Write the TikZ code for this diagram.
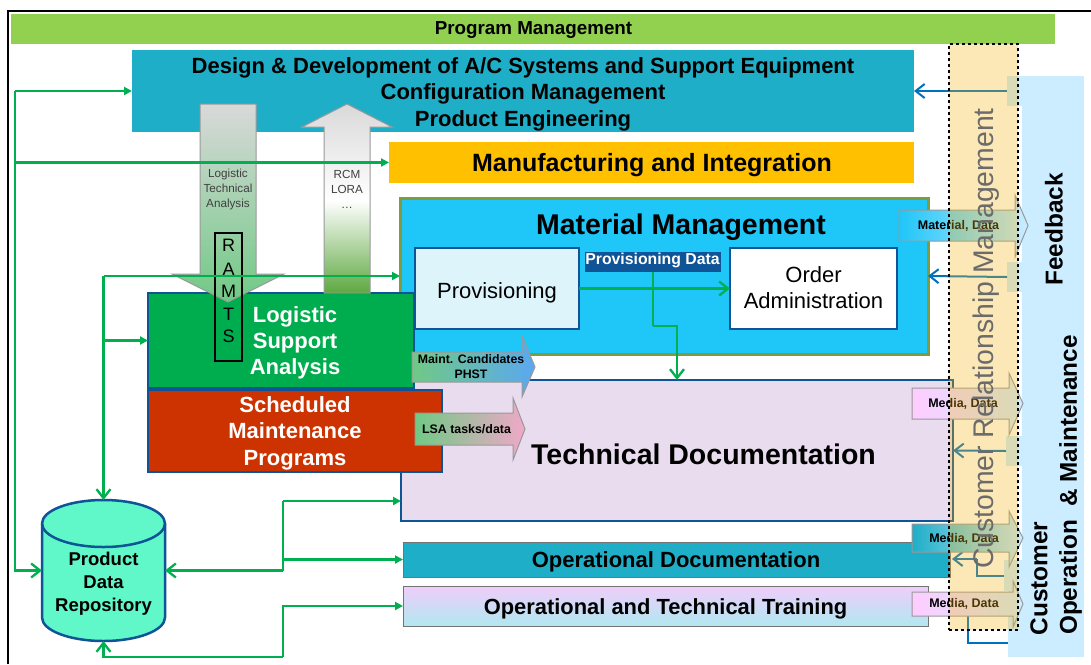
\documentclass[tikz,border=0pt]{standalone}
\usepackage{fontspec}
\setmainfont{Liberation Sans}
\usetikzlibrary{arrows.meta,shadings}
\definecolor{gline}{HTML}{00B050}
\definecolor{bline}{HTML}{0070C0}
\definecolor{navy}{HTML}{0F5496}
\definecolor{teal1}{HTML}{1FAEC7}
\definecolor{sky1}{HTML}{1FC6F8}
\definecolor{pane}{HTML}{CCECFF}
\definecolor{pinkm}{HTML}{FFCCFF}
\definecolor{greenm}{HTML}{70C985}
\definecolor{bandc}{HTML}{F8B612}
\definecolor{amber}{HTML}{FFC000}
\definecolor{olive1}{HTML}{7F9A3F}
\definecolor{lilac}{HTML}{E8DCEE}
\definecolor{trtop}{HTML}{F0CDFA}
\definecolor{trbot}{HTML}{B0E8F0}
\definecolor{lsag}{HTML}{00AD4E}
\definecolor{smpr}{HTML}{CC3300}
\definecolor{provc}{HTML}{DCF4FA}
\definecolor{pmg}{HTML}{92D050}
\definecolor{arrg}{HTML}{D9D9D9}
\definecolor{arrd}{HTML}{5EA840}
\definecolor{pdrc}{HTML}{60F8C8}
\definecolor{blueb}{HTML}{5AA8F0}
\definecolor{pinkb}{HTML}{F0A8C8}
\pgfdeclareverticalshading{rcmshade}{100bp}{color(0bp)=(arrd); color(25bp)=(arrd); color(49.5bp)=(white); color(75bp)=(arrg); color(100bp)=(arrg)}
\newcommand{\fs}[2]{\fontsize{#1}{#2}\selectfont}
\newcommand{\blk}[8]{%
  \path[draw=gray!80,line width=1pt,#1] (#2,#3) -- (#5,#3) -- (#5,#6) -- (#8,{(#3+#4)/2}) -- (#5,#7) -- (#5,#4) -- (#2,#4) -- cycle;}
\tikzset{
  box/.style={anchor=north west,inner sep=0pt,outer sep=0pt,align=center},
  lab/.style={inner sep=0pt,outer sep=0pt,align=center},
  gl/.style={draw=gline,line width=2.3pt},
  tri/.style={gl,-{Triangle[length=8pt,width=8pt]}},
  opn/.style={gl,-{Straight Barb[length=9pt,width=14pt,line width=2.3pt]}},
  bl/.style={draw=bline,line width=2pt},
  blopn/.style={bl,-{Straight Barb[length=9pt,width=14pt,line width=2pt]}},
  tab/.style={box,fill=pane},
}
\begin{document}
\begin{tikzpicture}[x=1pt,y=-1pt]
\useasboundingbox (0,0) rectangle (1091,664);
\fill[white] (0,0) rectangle (1091,664);
\draw[black,line width=2pt] (8,664) -- (8,11) -- (1091,11);
% right panel
\node[tab,minimum width=62pt,minimum height=581pt] (panel) at (1022,76) {};
\node[tab,minimum width=16pt,minimum height=30pt] (tabA) at (1007,76) {};
\node[tab,minimum width=16pt,minimum height=30pt] (tabB) at (1007,262) {};
\node[tab,minimum width=17pt,minimum height=30pt] (tabC) at (1006,436) {};
\node[tab,minimum width=19pt,minimum height=31pt] (tabD) at (1004,560) {};
\node[tab,minimum width=15pt,minimum height=67pt] (tabE) at (1008,590) {};
% main boxes
\node[box,fill=teal1,minimum width=782pt,minimum height=82pt] (design) at (132,50) {};
\node[box,fill=amber,minimum width=525pt,minimum height=41pt] (manuf) at (389,142) {};
\node[lab,font=\bfseries\fs{25}{29}] (manuft) at (652,165.5) {Manufacturing and Integration};
\node[box,fill=sky1,draw=olive1,line width=3pt,minimum width=528pt,minimum height=156pt] (material) at (400,198) {};
\node[box,fill=lilac,draw=navy,line width=2.5pt,minimum width=552pt,minimum height=141pt] (tech) at (401,380) {};
\node[lab,font=\bfseries\fs{28.5}{33}] (techt) at (703.5,454) {Technical Documentation};
\node[lab,font=\bfseries\fs{28.5}{33}] (matt) at (681,227) {Material Management};
\node[box,fill=teal1,draw=gray!90!black,line width=1pt,minimum width=547pt,minimum height=35pt] (opdoc) at (403,542) {};
\node[lab,font=\bfseries\fs{22}{26}] (opdoct) at (676,562) {Operational Documentation};
\node[box,draw=gray!90!black,line width=1pt,top color=trtop,bottom color=trbot,minimum width=525pt,minimum height=40pt] (train) at (403,586) {};
\node[lab,font=\bfseries\fs{21.9}{26}] (traint) at (665.5,609) {Operational and Technical Training};
\node[box,fill=lsag,draw=navy,line width=2.5pt,minimum width=266pt,minimum height=95pt] (lsa) at (148,293) {};
\node[box,fill=smpr,draw=navy,line width=2.5pt,minimum width=294pt,minimum height=82pt] (smp) at (148,390) {};
\node[box,fill=provc,draw=navy,line width=2.5pt,minimum width=164pt,minimum height=81pt] (prov) at (415,248) {};
\node[lab,font=\fs{22}{26}] (provt) at (497,292.5) {Provisioning};
\node[box,fill=white,draw=navy,line width=2.5pt,minimum width=167pt,minimum height=81pt] (order) at (730,248) {};
\node[lab,font=\fs{22}{26}] (ordert) at (813.5,288) {Order\\Administration};
\node[box,fill=navy,minimum width=136pt,minimum height=20pt] (provdata) at (585,252) {};
\node[lab,text=white,font=\bfseries\fs{15.8}{18}] (provdatat) at (652.5,260) {Provisioning Data};
% top bar
\node[box,fill=pmg,minimum width=1044pt,minimum height=30pt] (pm) at (11,14) {};
\node[lab,font=\bfseries\fs{18.8}{22}] (pmt) at (533.5,30) {Program Management};
% design text
\node[lab,font=\bfseries\fs{22}{26.6}] (designt) at (523,94) {Design \& Development of A/C Systems and Support Equipment\\Configuration Management\\Product Engineering};
% vertical block arrows
\path[draw=gray!80,line width=1pt,top color=arrg,bottom color=greenm]
 (200,104) -- (256,104) -- (256,274) -- (284,274) -- (228,302) -- (172,274) -- (200,274) -- cycle;
\node[lab,text=black!75,font=\fs{11.7}{15}] (lta) at (228,189) {Logistic\\Technical\\Analysis};
\path[draw=gray!80,line width=1pt,shading=rcmshade]
 (324,293) -- (324,127) -- (302,127) -- (347,104) -- (392,127) -- (370,127) -- (370,293) -- cycle;
\node[lab,text=black!75,font=\fs{11.7}{15}] (rcm) at (347,189) {RCM\\LORA\\…};
% LSA, SMP text
\node[box,draw=black,line width=1.5pt,minimum width=27pt,minimum height=128pt] (ramts) at (215,233) {};
\node[lab,font=\fs{18}{20}] (rr) at (228.5,245) {R};
\node[lab,font=\fs{18}{20}] (ra) at (228.5,269) {A};
\node[lab,font=\fs{18}{20}] (rm) at (228.5,291) {M};
\node[lab,font=\fs{18}{20}] (rt) at (228.5,314) {T};
\node[lab,font=\fs{18}{20}] (rs) at (228.5,336) {S};
\node[lab,text=white,font=\bfseries\fs{22}{26}] (lsat) at (295,343) {Logistic\\Support\\Analysis};
\node[lab,text=white,font=\bfseries\fs{22}{26.5}] (smpt) at (295,433) {Scheduled\\Maintenance\\Programs};
% PDR
\node[box,minimum width=123pt,minimum height=141pt] (pdr) at (42,500) {};
\path[draw=navy,line width=2.5pt,fill=pdrc] (42,523.5) -- (42,617.5) arc[start angle=180,end angle=0,x radius=61.5,y radius=23.5] -- (165,523.5) arc[start angle=0,end angle=-180,x radius=61.5,y radius=23.5] -- cycle;
\draw[navy,line width=2.5pt] (42,523.5) arc[start angle=180,end angle=0,x radius=61.5,y radius=23.5];
\node[lab,font=\bfseries\fs{18.5}{23}] (pdrt) at (103.5,584) {Product\\Data\\Repository};
% junctions
\coordinate (ja) at (15,91);
\coordinate (jb) at (103.5,276);
\coordinate (jc) at (283,570.5);
\coordinate (jd) at (283,501);
\coordinate (je) at (283,657);
\coordinate (jf) at (653,326);
% green connectors
\draw[tri] (ja) -- (design.west);
\draw[opn] (ja) |- (pdr.west);
\draw[tri] (ja |- manuf.west) -- (manuf.west);
\draw[opn] (jb) -- (pdr.north);
\draw[tri] (jb) -- (material.west);
\draw[tri] (jb |- lsa.west) -- (lsa.west);
\draw[opn] (jc) -- (pdr.east);
\draw[gl] (jc) -- (jd);
\draw[tri] (jd) -- (tech.west |- jd);
\draw[tri] (jc |- opdoc.west) -- (opdoc.west);
\draw[opn] (je) -| (pdr.south);
\draw[tri] (je) |- (train.west);
\draw[opn] (prov.east) -- (order.west);
\draw[gl] (provdata.south) -- (jf);
\draw[opn] (jf) -| (tech.north);
% blue connectors
\coordinate (jg) at (977,576);
\coordinate (jh) at (952,559);
\coordinate (ji) at (968,643);
\coordinate (jj) at (968,616);
\draw[blopn] (tabA.west) -- (design.east);
\draw[blopn] (tabB.west) -- (material.east);
\draw[blopn] (tabC.west) -- (tech.east);
\draw[bl] (tabD.west |- jg) -- (jg) -- (jg |- jh);
\draw[blopn] (jg |- jh) -- (jh);
\draw[bl] (tabE.west |- ji) -- (ji) -- (jj);
% horizontal block arrows
\blk{left color=greenm,right color=blueb}{412}{352}{382}{522}{336}{397}{535}
\node[lab,font=\bfseries\fs{12.3}{15}] (maint) at (471,367) {Maint. Candidates\\PHST};
\blk{left color=greenm,right color=pinkb}{415}{413}{445}{513}{398}{460}{525}
\node[lab,font=\bfseries\fs{12.4}{15}] (lsatasks) at (466.5,429) {LSA tasks/data};
\blk{left color=sky1,right color=pane}{899}{210}{241}{1015}{195}{257}{1028}
\node[lab,font=\bfseries\fs{12.5}{15}] (mdata) at (958.5,226) {Material, Data};
\blk{left color=pinkm,right color=pane}{912}{388}{419}{1009}{373}{435}{1023}
\node[lab,font=\bfseries\fs{12.5}{15}] (md1) at (963,404) {Media, Data};
\blk{left color=teal1,right color=pane}{912}{524}{552}{1009}{511}{567}{1023}
\node[lab,font=\bfseries\fs{12.5}{15}] (md2) at (964,538.5) {Media, Data};
\blk{left color=pinkm,right color=pane}{912}{592}{616}{1013}{581}{627}{1023}
\node[lab,font=\bfseries\fs{12.5}{15}] (md3) at (964,604) {Media, Data};
% band
\fill[bandc,fill opacity=.3] (949,44) rectangle (1018,630);
\node[box,draw=black,dashed,line width=1.3pt,minimum width=69pt,minimum height=586pt] (band) at (949,44) {};
\node[lab,rotate=90,text=black!58,font=\fs{28.4}{32}] (crm) at (986,338.5) {Customer Relationship Management};
% panel text
\node[lab,rotate=90,font=\bfseries\fs{24.4}{28}] (fb) at (1054,229.5) {Feedback};
\node[lab,rotate=90,font=\bfseries\fs{24.4}{28}] (cust) at (1039,578.5) {Customer};
\node[lab,rotate=90,font=\bfseries\fs{24.3}{28}] (oper) at (1070.5,485) {Operation \ \& Maintenance};
\end{tikzpicture}
\end{document}
